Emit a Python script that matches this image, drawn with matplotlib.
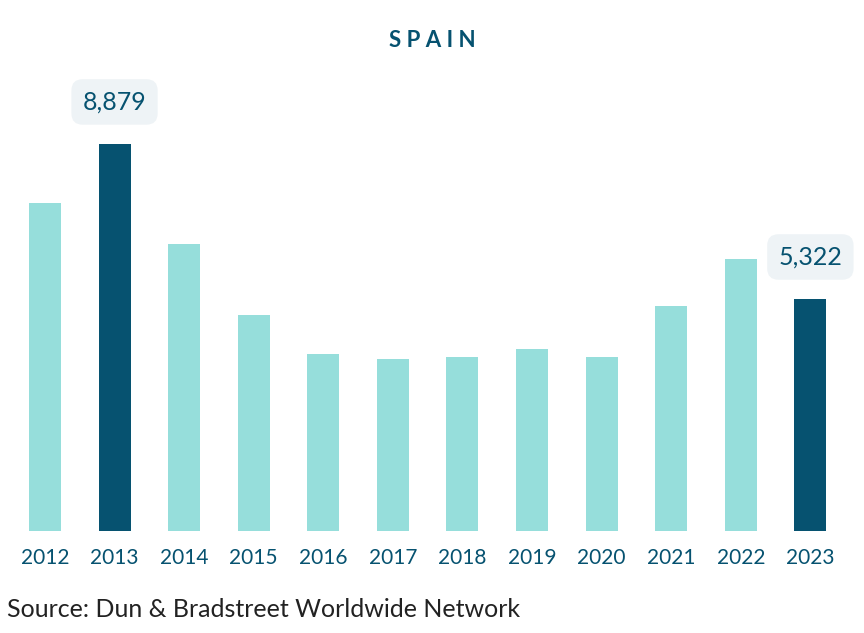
import matplotlib.pyplot as plt

years = ['2012', '2013', '2014', '2015', '2016', '2017', '2018', '2019', '2020', '2021', '2022', '2023']
values = [7525, 8879, 6584, 4955, 4060, 3946, 3992, 4175, 3992, 5162, 6240, 5322]
highlight = ['2013', '2023']

light = '#96dedb'
dark = '#065270'
colors = [dark if y in highlight else light for y in years]

fig = plt.figure(figsize=(8.64, 6.33), dpi=100)
ax = fig.add_axes([3.2 / 864, 102 / 633, 835 / 864, 481 / 633])
x = range(len(years))
ax.bar(x, values, width=0.46, color=colors)
ax.set_xlim(-0.6, len(years) - 0.6)
ax.set_ylim(0, 8879 / 387 * 481)
ax.set_xticks(list(x))
ax.set_xticklabels(years, color=dark, fontsize=15, family='Lato')
ax.tick_params(axis='x', length=0, pad=12)
ax.set_yticks([])
for s in ax.spines.values():
    s.set_visible(False)

for i, (y, v) in enumerate(zip(years, values)):
    if y in highlight:
        ax.annotate(f'{v:,}', (i, v), xytext=(0, 22), textcoords='offset points',
                    ha='center', va='bottom', fontsize=18, color=dark, family='Lato',
                    bbox=dict(boxstyle='round,pad=0.45', fc='#eef3f6', ec='none'))

fig.text(0.5, 0.925, 'S P A I N', ha='center', fontsize=16, fontweight='bold',
         color=dark, family='Lato')
fig.text(0.008, 0.025, 'Source: Dun & Bradstreet Worldwide Network', fontsize=18,
         color='#222222', family='Lato')
fig.savefig('out.png', dpi=100)
